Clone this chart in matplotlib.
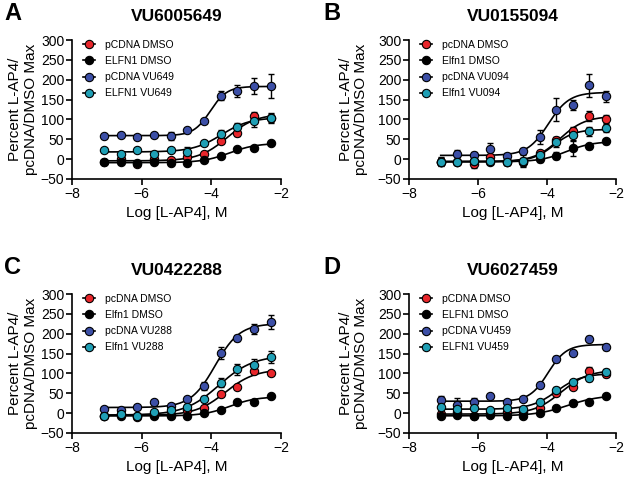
import numpy as np
import matplotlib
matplotlib.use("Agg")
import matplotlib.pyplot as plt
from matplotlib.lines import Line2D

plt.rcParams['font.family'] = ['Liberation Sans', 'DejaVu Sans']

# log10 of L-AP4 concentration (M)
log_conc = np.array([-7.08, -6.60, -6.12, -5.65, -5.17, -4.69, -4.21, -3.73, -3.26, -2.78, -2.30])

# panel A - VU6005649
a_red = [-6, 0, -12, 0, -2, 6, 12, 45, 67, 108, 103]
a_black = [-8, -6, -9, -8, -10, -10, -2, 8, 25, 28, 41]
a_blue = [58, 61, 56, 60, 58, 73, 95, 160, 172, 184, 185]
a_cyan = [24, 13, 24, 13, 24, 19, 40, 63, 80, 97, 103]
a_red_err = [5, 4, 4, 5, 5, 5, 5, 5, 8, 10, 10]
a_black_err = [3, 3, 3, 3, 3, 3, 3, 3, 5, 5, 4]
a_blue_err = [4, 4, 4, 5, 10, 5, 5, 12, 15, 20, 30]
a_cyan_err = [4, 4, 4, 4, 4, 12, 5, 10, 10, 15, 12]

# panel B - VU0155094
b_red = [-6, -6, -12, 5, -6, -6, 15, 47, 70, 108, 100]
b_black = [-6, -6, -5, -6, -8, -8, 0, 9, 28, 32, 45]
b_blue = [-6, 14, 11, 26, 8, 20, 56, 125, 137, 186, 158]
b_cyan = [-6, -6, -4, -4, -6, -4, 10, 43, 60, 70, 78]
b_red_err = [8, 6, 10, 8, 6, 10, 8, 10, 12, 13, 10]
b_black_err = [8, 6, 6, 6, 8, 10, 6, 8, 21, 6, 6]
b_blue_err = [12, 8, 8, 15, 8, 8, 17, 29, 13, 29, 13]
b_cyan_err = [10, 6, 8, 8, 8, 15, 8, 12, 15, 12, 10]

# panel C - VU0422288
c_red = [-6, -3, -10, -3, -4, 7, 14, 47, 67, 106, 100]
c_black = [-6, -6, -6, -6, -8, -8, 0, 8, 28, 28, 43]
c_blue = [10, 8, 15, 29, 17, 35, 69, 152, 190, 212, 229]
c_cyan = [-8, -3, -6, 2, 7, 15, 35, 77, 110, 121, 142]
c_red_err = [4, 4, 5, 4, 4, 5, 5, 5, 5, 8, 5]
c_black_err = [3, 3, 3, 3, 3, 3, 3, 3, 6, 3, 3]
c_blue_err = [6, 5, 5, 5, 5, 5, 10, 15, 8, 12, 18]
c_cyan_err = [4, 4, 4, 4, 4, 4, 8, 12, 15, 15, 15]

# panel D - VU6027459
d_red = [-3, 2, -8, 0, 2, 2, 14, 50, 65, 107, 99]
d_black = [-6, -4, -6, -5, -8, -8, 0, 13, 25, 29, 44]
d_blue = [32, 21, 29, 44, 29, 35, 71, 136, 151, 187, 166]
d_cyan = [15, 10, 12, 7, 12, 11, 29, 59, 78, 88, 103]
d_red_err = [5, 5, 5, 4, 4, 4, 5, 5, 5, 8, 8]
d_black_err = [3, 3, 3, 3, 3, 3, 3, 3, 6, 3, 3]
d_blue_err = [10, 18, 10, 5, 5, 5, 5, 8, 5, 8, 8]
d_cyan_err = [5, 5, 5, 4, 4, 5, 5, 6, 5, 6, 8]

titles = ["VU6005649", "VU0155094", "VU0422288", "VU6027459"]
letters = ["A", "B", "C", "D"]
labels = [
    ["pCDNA DMSO", "ELFN1 DMSO", "pCDNA VU649", "ELFN1 VU649"],
    ["pcDNA DMSO", "Elfn1 DMSO", "pcDNA VU094", "Elfn1 VU094"],
    ["pcDNA DMSO", "Elfn1 DMSO", "pcDNA VU288", "Elfn1 VU288"],
    ["pCDNA DMSO", "ELFN1 DMSO", "pCDNA VU459", "ELFN1 VU459"],
]
values = [
    [a_red, a_black, a_blue, a_cyan],
    [b_red, b_black, b_blue, b_cyan],
    [c_red, c_black, c_blue, c_cyan],
    [d_red, d_black, d_blue, d_cyan],
]
errors = [
    [a_red_err, a_black_err, a_blue_err, a_cyan_err],
    [b_red_err, b_black_err, b_blue_err, b_cyan_err],
    [c_red_err, c_black_err, c_blue_err, c_cyan_err],
    [d_red_err, d_black_err, d_blue_err, d_cyan_err],
]
colors = ["#e8262b", "#000000", "#3c4fa6", "#1f9fb5"]


def fit_curve(x, y):
    # 4 parameter logistic, grid over logEC50/hill, linear solve for bottom/top
    lec, hill = np.meshgrid(np.arange(-6.0, -1.5, 0.01), np.arange(0.5, 2.51, 0.02))
    lec = lec.ravel()[:, None]
    hill = hill.ravel()[:, None]
    f = 1.0 / (1.0 + 10 ** ((lec - x[None, :]) * hill))
    fm = f.mean(axis=1, keepdims=True)
    ym = y.mean()
    d = ((f - fm) * (y - ym)).sum(axis=1, keepdims=True) / ((f - fm) ** 2).sum(axis=1, keepdims=True)
    b = ym - d * fm
    sse = ((y[None, :] - b - d * f) ** 2).sum(axis=1)
    i = np.argmin(sse)
    return b[i, 0], d[i, 0], lec[i, 0], hill[i, 0]


W, H = 627, 478
fig = plt.figure(figsize=(W / 100, H / 100), dpi=100)

# axes boxes in pixels: left, top, right, bottom
boxes = [(72, 40, 281, 179), (409, 40, 616, 179), (72, 294, 281, 433), (409, 294, 616, 433)]
letter_pos = [(4, 14), (323, 14), (4, 267), (323, 267)]
label_x = [-0.165, -0.2, -0.165, -0.2]

xs = np.linspace(log_conc[0], log_conc[-1], 300)

for p in range(4):
    l, t, r, b = boxes[p]
    ax = fig.add_axes([l / W, 1 - b / H, (r - l) / W, (b - t) / H])
    for k in range(4):
        y = np.array(values[p][k], dtype=float)
        bot, dd, lec, hill = fit_curve(log_conc, y)
        ax.plot(xs, bot + dd / (1 + 10 ** ((lec - xs) * hill)), color="black", lw=1.2, zorder=2)
        ax.errorbar(log_conc, y, yerr=errors[p][k], fmt="none", ecolor="black",
                    elinewidth=1, capsize=2.5, capthick=1, zorder=3)
        ax.plot(log_conc, y, "o", color=colors[k], mec="black", mew=0.8, ms=6, zorder=4 + k * 0.1)

    ax.set_xlim(-8, -2)
    ax.set_ylim(-50, 300)
    ax.set_xticks([-8, -6, -4, -2])
    ax.set_yticks(range(-50, 301, 50))
    ax.spines["top"].set_visible(False)
    ax.spines["right"].set_visible(False)
    ax.spines["left"].set_linewidth(1.2)
    ax.spines["bottom"].set_linewidth(1.2)
    ax.tick_params(width=1.2, length=4, labelsize=10, pad=1.5)
    ax.set_xlabel("Log [L-AP4], M", fontsize=11)
    ax.set_ylabel("Percent L-AP4/\npcDNA/DMSO Max", fontsize=11, linespacing=1.1)
    ax.yaxis.set_label_coords(label_x[p], 0.5)
    ax.set_title(titles[p], fontsize=12.5, fontweight="bold", pad=14)

    handles = [Line2D([], [], color="black", lw=1.2, marker="o", markerfacecolor=c,
                      markeredgecolor="black", mew=0.8, ms=6) for c in colors]
    ax.legend(handles, labels[p], loc="upper left", bbox_to_anchor=(0.03, 1.04),
              frameon=False, fontsize=7.5, handlelength=1.1, handletextpad=1.0,
              labelspacing=0.6, borderpad=0)

    lx, ly = letter_pos[p]
    fig.text(lx / W, 1 - ly / H, letters[p], fontsize=17, fontweight="bold", va="center", ha="left")

fig.savefig("out.png", dpi=100)
